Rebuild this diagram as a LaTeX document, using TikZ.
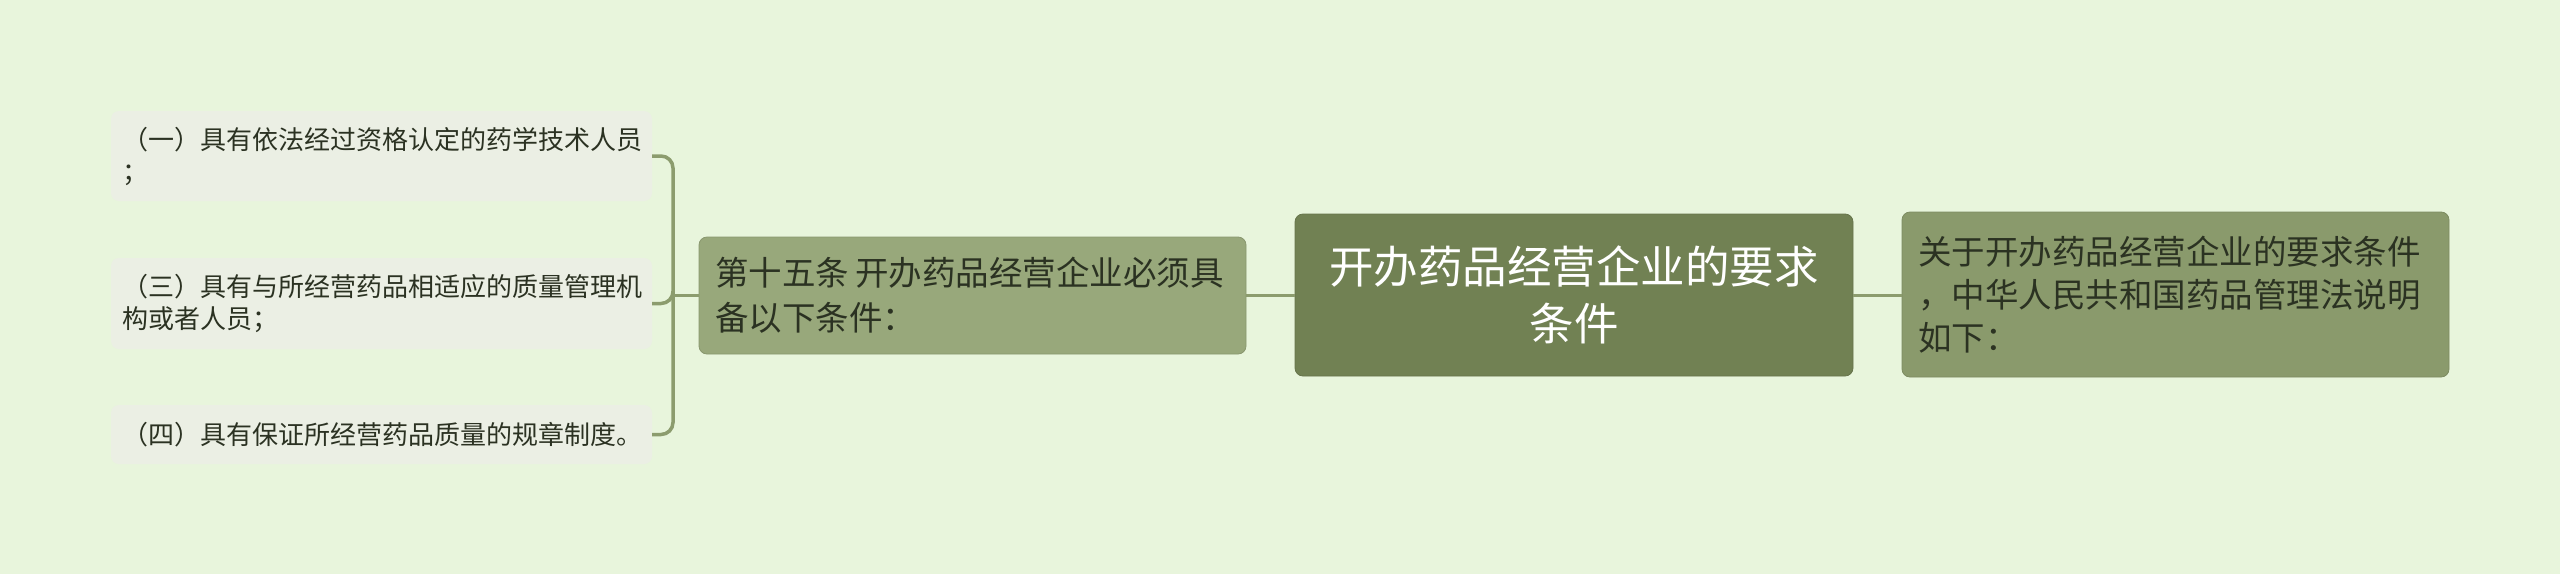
\documentclass[tikz,border=0pt]{standalone}
\usepackage{fontspec}
\setmainfont{Noto Sans CJK SC}
\definecolor{bg}{HTML}{E8F5DC}
\definecolor{leaffill}{HTML}{EBEFE4}
\definecolor{midfill}{HTML}{98A87B}
\definecolor{rootfill}{HTML}{718153}
\definecolor{rightfill}{HTML}{8A9A6C}
\definecolor{linec}{HTML}{8C9C6E}
\definecolor{txt}{HTML}{2B3222}
\begin{document}
\begin{tikzpicture}[x=1pt,y=-1pt,
  box/.style={rectangle, rounded corners=8pt, anchor=center, inner ysep=0pt},
  leafbox/.style={box, fill=leaffill, text=txt, inner xsep=11pt, text width=519pt, minimum width=541pt, align=left, font=\fontsize{26}{32}\selectfont},
  midbox/.style={box, fill=midfill, draw=midfill!90!black, line width=0.8pt, text=txt, inner xsep=16pt, text width=515pt, minimum width=547pt, minimum height=117pt, align=left, font=\fontsize{33.5}{45}\selectfont},
  rootbox/.style={box, fill=rootfill, draw=rootfill!90!black, line width=0.8pt, text=white, inner xsep=16pt, text width=526pt, minimum width=558pt, minimum height=162pt, align=center, font=\fontsize{44.5}{57}\selectfont},
  rightbox/.style={box, fill=rightfill, draw=rightfill!90!black, line width=0.8pt, text=txt, inner xsep=16pt, text width=515pt, minimum width=547pt, minimum height=165pt, align=left, font=\fontsize{33.5}{43}\selectfont},
  conn/.style={draw=linec, line width=3pt},
  brace/.style={draw=linec, line width=3.5pt, rounded corners=12pt}
]
\fill[bg] (0,0) rectangle (2560,574);
\useasboundingbox (0,0) rectangle (2560,574);

\node[rootbox] (root) at (1574,295) {开办药品经营企业的要求\\条件};
\node[midbox] (mid) at (972.5,295.5) {第十五条\kern6pt 开办药品经营企业必须具\\备以下条件：};
\node[rightbox] (right) at (2175.5,294.5) {关于开办药品经营企业的要求条件\\，中华人民共和国药品管理法说明\\如下：};

\node[leafbox, minimum height=90pt] (leafa) at (381.5,156) {（一）具有依法经过资格认定的药学技术人员\\；};
\node[leafbox, minimum height=91pt] (leafb) at (381.5,303.5) {（三）具有与所经营药品相适应的质量管理机\\构或者人员；};
\node[leafbox, minimum height=59pt] (leafc) at (381.5,434.5) {（四）具有保证所经营药品质量的规章制度。};

\coordinate (bj) at (673,295);

\draw[conn] (root.west |- 0,295) -- (mid.east |- 0,295);
\draw[conn] (root.east |- 0,295) -- (right.west |- 0,295);
\draw[conn] (mid.west |- 0,295) -- (bj);
\draw[brace] (bj) |- (leafa.east);
\draw[brace] (bj) |- (leafb.east);
\draw[brace] (bj) |- (leafc.east);
\end{tikzpicture}
\end{document}
